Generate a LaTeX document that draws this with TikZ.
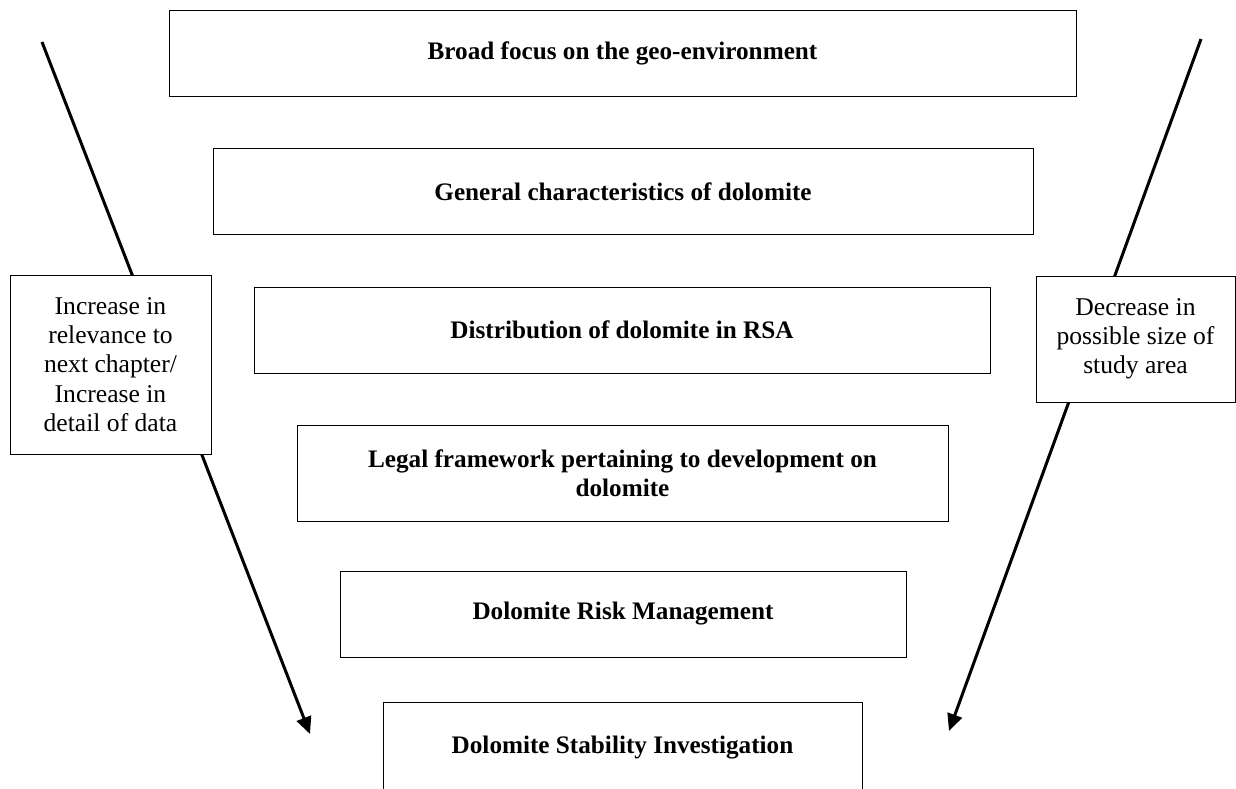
\documentclass[tikz,border=0pt]{standalone}
\usepackage{fontspec}
\setmainfont{Liberation Serif}
\usetikzlibrary{arrows.meta}

\begin{document}
\begin{tikzpicture}[x=0.5pt, y=-0.5pt,
        topic/.style={draw, line width=0.5pt, fill=white, inner sep=0pt, align=center,
            font=\fontsize{12.6}{14.5}\selectfont\bfseries, minimum height=43pt},
        sidebox/.style={draw, line width=0.5pt, fill=white, inner sep=0pt, align=center,
            font=\fontsize{12.8}{14.6}\selectfont},
        trend/.style={line width=1.5pt, -{Triangle[length=8.5pt, width=7.5pt]}}]
        \useasboundingbox (0,0) rectangle (1236,788);

        % Trend arrows
        \coordinate (lstart) at (42,42);
        \coordinate (lend) at (310,734);
        \coordinate (rstart) at (1201,39);
        \coordinate (rend) at (949,731);
        \draw[trend] (lstart) -- (lend);
        \draw[trend] (rstart) -- (rend);

        % Funnel of topics
        \node[topic, minimum width=453.5pt] (geo) at (622.5,53) {Broad focus on the geo-environment};
        \node[topic, minimum width=410pt] (general) at (623,191.5) {General characteristics of dolomite};
        \node[topic, minimum width=368pt] (rsa) at (622,330) {Distribution of dolomite in RSA};
        \node[topic, minimum width=325.5pt, minimum height=48pt] (legal) at (622.5,473) {Legal framework pertaining to development on\\dolomite};
        \node[topic, minimum width=283pt] (risk) at (623,614) {Dolomite Risk Management};
        \node[topic, minimum width=239.5pt, minimum height=46pt] (dsi) at (622.5,748) {\raisebox{3pt}{Dolomite Stability Investigation}};

        % Side notes
        \node[sidebox, minimum width=100.5pt, minimum height=89.5pt] (relevance) at (110.5,364.5)
            {Increase in\\relevance to\\next chapter/\\Increase in\\detail of data};
        \node[sidebox, minimum width=99.5pt, minimum height=63pt] (area) at (1135.5,339)
            {Decrease in\\possible size of\\study area};
    \end{tikzpicture}
\end{document}
